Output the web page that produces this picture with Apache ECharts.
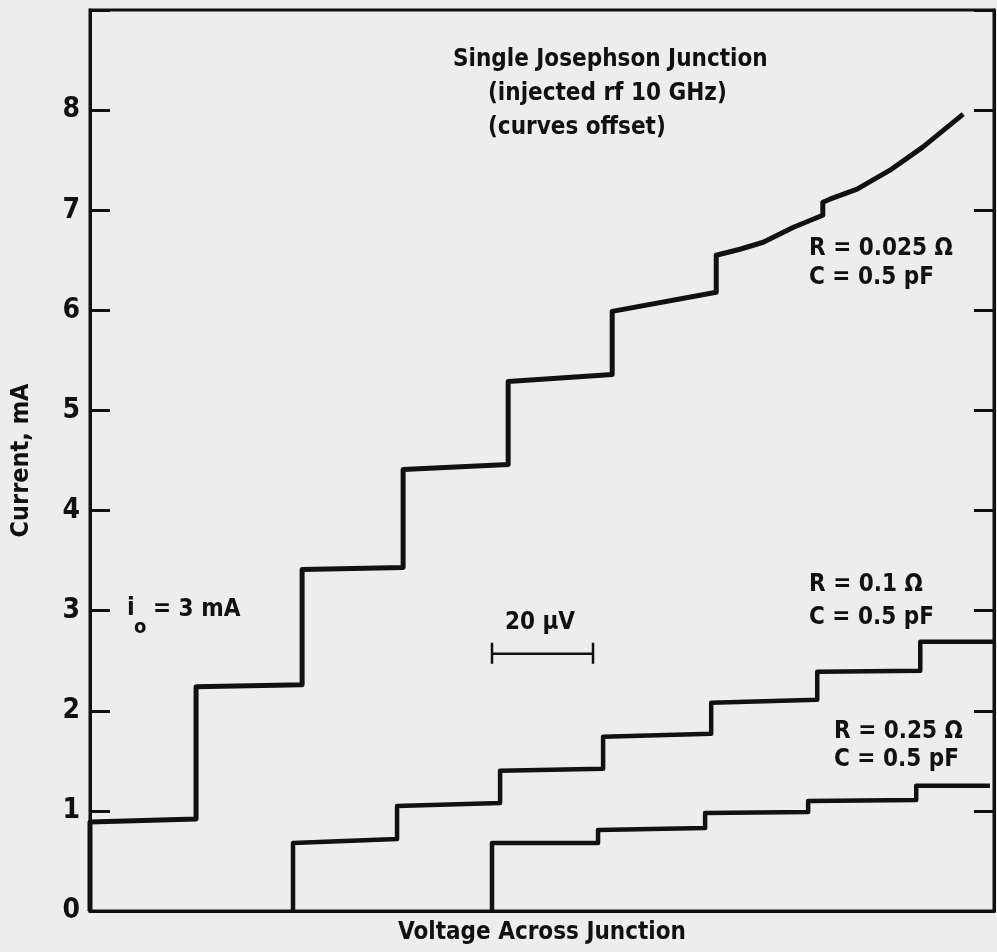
<!DOCTYPE html>
<html>
<head>
<meta charset="utf-8">
<script src="https://cdn.jsdelivr.net/npm/echarts@6/dist/echarts.min.js"></script>
<style>
    html, body { margin: 0; padding: 0; background: #ededed; }
    #chart { width: 997px; height: 952px; }
</style>
</head>
<body>
<div id="chart"></div>
<script>
    // voltage in µV (20 µV scale bar), current in mA
    const yTicks = [0, 1, 2, 3, 4, 5, 6, 7, 8];

    const curveR025 = [
        [0, 0], [0, 0.89], [21.0, 0.92], [21.0, 2.24], [42.0, 2.26], [42.0, 3.41],
        [62.0, 3.43], [62.0, 4.41], [82.8, 4.46], [82.8, 5.29], [103.4, 5.36], [103.4, 5.99],
        [124.0, 6.18], [124.0, 6.55], [128.7, 6.61], [133.3, 6.68], [136.1, 6.75], [139.3, 6.83],
        [145.1, 6.95], [145.1, 7.08], [146.5, 7.11], [151.9, 7.21], [158.4, 7.40], [164.9, 7.63],
        [172.9, 7.96]
    ];
    const curveR1 = [
        [40.2, 0], [40.2, 0.68], [60.8, 0.72], [60.8, 1.05], [81.2, 1.08], [81.2, 1.40],
        [101.6, 1.42], [101.6, 1.74], [123.0, 1.77], [123.0, 2.08], [144.0, 2.11], [144.0, 2.39],
        [164.4, 2.40], [164.4, 2.69], [179, 2.69]
    ];
    const curveR25 = [
        [79.6, 0], [79.6, 0.68], [100.6, 0.68], [100.6, 0.81], [121.8, 0.83], [121.8, 0.98],
        [142.2, 0.99], [142.2, 1.10], [163.6, 1.11], [163.6, 1.25], [178.2, 1.25]
    ];
    const scaleBar = [[79.6, 2.68], [79.6, 2.47], [79.6, 2.57], [99.6, 2.57], [99.6, 2.68], [99.6, 2.47]];

    const font = '"Liberation Sans Narrow", "DejaVu Sans Condensed", sans-serif';
    const ink = '#111';

    function label(text, x, y, size, align) {
        return {
            type: 'text',
            x: x, y: y,
            style: {
                text: text,
                font: 'bold ' + size + 'px ' + font,
                fill: ink,
                textAlign: align || 'left',
                textVerticalAlign: 'middle'
            }
        };
    }

    const myChart = echarts.init(document.getElementById('chart'));
    const option = {
        backgroundColor: '#ededed',
        animation: false,
        grid: {
            left: 90, right: 3, top: 10, bottom: 41,
            show: true,
            borderColor: ink,
            borderWidth: 3
        },
        xAxis: {
            type: 'value',
            min: 0,
            max: 179,
            name: 'Voltage Across Junction',
            nameLocation: 'middle',
            nameGap: 10,
            nameTextStyle: { color: ink, fontSize: 24, fontWeight: 'bold', fontFamily: font, verticalAlign: 'top' },
            axisLine: { show: true, lineStyle: { color: ink, width: 3 } },
            axisTick: { show: false },
            axisLabel: { show: false },
            splitLine: { show: false }
        },
        yAxis: [
            {
                type: 'value',
                min: 0,
                max: 9,
                interval: 1,
                name: 'Current, mA',
                nameLocation: 'middle',
                nameGap: 56,
                nameRotate: 90,
                nameTextStyle: { color: ink, fontSize: 25, fontWeight: 'bold', fontFamily: font },
                axisLine: { show: true, lineStyle: { color: ink, width: 3 } },
                axisTick: { show: true, inside: true, length: 20, lineStyle: { color: ink, width: 3 } },
                axisLabel: {
                    color: ink, fontSize: 28, fontWeight: 'bold', fontFamily: font, margin: 10,
                    formatter: function (v) { return yTicks.indexOf(v) >= 0 ? String(v) : ''; }
                },
                splitLine: { show: false }
            },
            {
                type: 'value',
                position: 'right',
                min: 0,
                max: 9,
                interval: 1,
                axisLine: { show: true, lineStyle: { color: ink, width: 3 } },
                axisTick: { show: true, inside: true, length: 20, lineStyle: { color: ink, width: 3 } },
                axisLabel: { show: false },
                splitLine: { show: false }
            }
        ],
        series: [
            {
                name: 'R = 0.025 Ω',
                type: 'line',
                data: curveR025,
                showSymbol: false,
                lineStyle: { color: ink, width: 5, join: 'round' }
            },
            {
                name: 'R = 0.1 Ω',
                type: 'line',
                data: curveR1,
                showSymbol: false,
                lineStyle: { color: ink, width: 4.5, join: 'round' }
            },
            {
                name: 'R = 0.25 Ω',
                type: 'line',
                data: curveR25,
                showSymbol: false,
                lineStyle: { color: ink, width: 4.5, join: 'round' }
            },
            {
                name: 'scale',
                type: 'line',
                data: scaleBar,
                showSymbol: false,
                lineStyle: { color: ink, width: 2.5 }
            }
        ],
        graphic: [
            label('Single Josephson Junction', 453, 60, 24),
            label('(injected rf 10 GHz)', 488, 94, 24),
            label('(curves offset)', 488, 128, 24),
            label('R = 0.025 Ω', 809, 249, 24),
            label('C = 0.5 pF', 809, 278, 24),
            label('R = 0.1 Ω', 809, 585, 24),
            label('C = 0.5 pF', 809, 618, 24),
            label('R = 0.25 Ω', 834, 732, 24),
            label('C = 0.5 pF', 834, 760, 24),
            label('20 µV', 540, 623, 24, 'center'),
            label('i', 127, 608, 25),
            label('o', 134, 628, 20),
            label('= 3 mA', 153, 610, 24)
        ]
    };
    myChart.setOption(option);
</script>
</body>
</html>
